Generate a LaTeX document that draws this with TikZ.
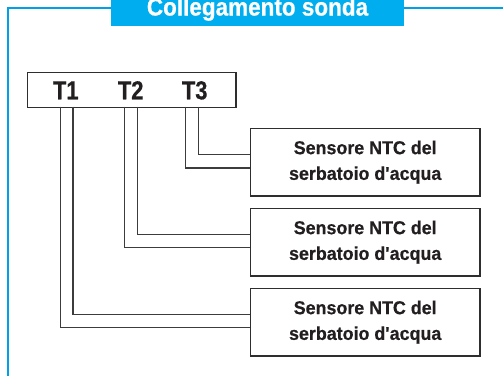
\documentclass[tikz,border=0pt]{standalone}
\usepackage{fontspec}
\setmainfont{Liberation Sans}
\definecolor{framecyan}{RGB}{0,160,233}
\definecolor{bannercyan}{HTML}{00AEEF}
\definecolor{wiregray}{HTML}{3C3C3C}
\definecolor{boxdark}{HTML}{2E2E2E}
\definecolor{textdark}{HTML}{231F20}
\begin{document}
\begin{tikzpicture}[x=1pt,y=-1pt,
  sensorbox/.style={draw=boxdark,line width=1.2pt,minimum width=229.7pt,minimum height=67.7pt,
    inner sep=0pt,align=center,text=textdark,
    font=\fontsize{18.6}{25.7}\selectfont\bfseries\addfontfeature{FakeStretch=0.96,FakeBold=0.6}},
  termlabel/.style={anchor=base,text=textdark,inner sep=0pt,
    font=\fontsize{26}{26}\selectfont\bfseries\addfontfeature{FakeStretch=0.84,FakeBold=0.6}},
  wire/.style={draw=wiregray,line width=1.2pt},
  framepath/.style={draw=framecyan,line width=2pt}]
\useasboundingbox (0,0) rectangle (503,376);
% outer frame (clipped at right and bottom)
\draw[framepath] (7.5,376) -- (7.5,7.5) -- (503,7.5);
% title banner
\node[fill=bannercyan,minimum width=293pt,minimum height=25.7pt,inner sep=0pt,anchor=north west] (banner) at (111,0) {};
\node[anchor=base,text=white,inner sep=0pt,
  font=\fontsize{25}{25}\selectfont\bfseries\addfontfeature{FakeStretch=0.9,FakeBold=0.6}] (title) at (257.5,15.5) {Collegamento sonda};
% terminal block
\node[draw=boxdark,line width=1.2pt,fill=white,minimum width=208.3pt,minimum height=34.7pt,inner sep=0pt,anchor=north west] (tbox) at (27,72) {};
\node[termlabel] (t1) at (65.8,99.3) {T1};
\node[termlabel] (t2) at (130.7,99.3) {T2};
\node[termlabel] (t3) at (194.7,99.3) {T3};
% sensor boxes
\node[sensorbox] (s1) at (365.2,162.2) {Sensore NTC del\\serbatoio d\textquotesingle acqua};
\node[sensorbox] (s2) at (365.2,242.2) {Sensore NTC del\\serbatoio d\textquotesingle acqua};
\node[sensorbox] (s3) at (365.2,322.2) {Sensore NTC del\\serbatoio d\textquotesingle acqua};
% wire start points on the terminal block
\coordinate (w1o) at (60.7,106.7);
\coordinate (w1i) at (73,106.7);
\coordinate (w2o) at (124.7,106.7);
\coordinate (w2i) at (137.3,106.7);
\coordinate (w3o) at (185.7,106.7);
\coordinate (w3i) at (198.7,106.7);
% wires
\draw[wire] (w3i) |- ([yshift=8pt]s1.west);
\draw[wire] (w3o) |- ([yshift=-5.8pt]s1.west);
\draw[wire] (w2i) |- ([yshift=7.5pt]s2.west);
\draw[wire] (w2o) |- ([yshift=-5.5pt]s2.west);
\draw[wire] (w1i) |- ([yshift=7.9pt]s3.west);
\draw[wire] (w1o) |- ([yshift=-5.5pt]s3.west);
\end{tikzpicture}
\end{document}
